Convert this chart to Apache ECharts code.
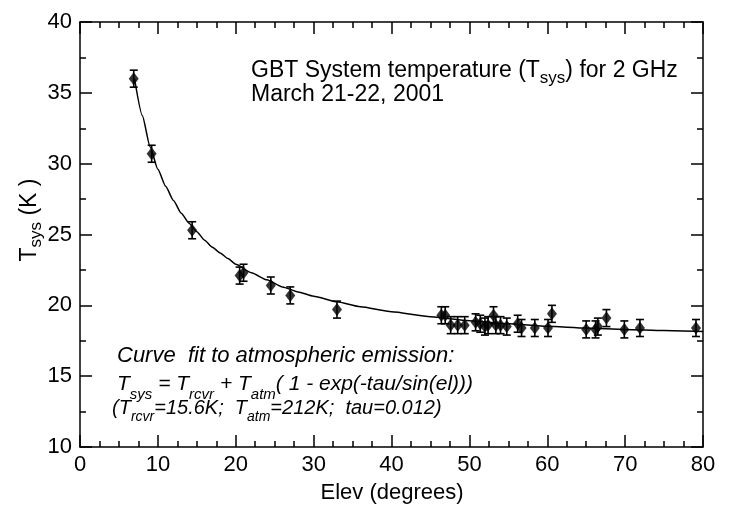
<!DOCTYPE html>
<html><head><meta charset="utf-8">
<script src="https://cdn.jsdelivr.net/npm/echarts@6/dist/echarts.min.js"></script>
<style>html,body{margin:0;padding:0;background:#fff}#c{width:730px;height:508px}</style>
</head><body><div id="c"></div>
<script>
// Measured points (elevation in degrees, Tsys in K, error half-width in K)
const elevations = [6.9, 9.2, 14.4, 20.5, 21.0, 24.5, 27.0, 33.0,
  46.4, 46.9, 47.6, 48.5, 49.4, 50.8, 51.4, 52.0, 52.4, 53.1, 53.4, 54.0, 54.8,
  56.2, 56.7, 58.4, 60.1, 60.6, 65.0, 66.2, 66.5, 67.6, 69.9, 71.9, 79.1];
const tsys = [36.0, 30.7, 25.3, 22.1, 22.3, 21.4, 20.7, 19.7,
  19.3, 19.3, 18.6, 18.6, 18.6, 18.8, 18.7, 18.5, 18.6, 19.3, 18.6, 18.6, 18.5,
  18.7, 18.4, 18.4, 18.4, 19.4, 18.3, 18.3, 18.5, 19.1, 18.3, 18.4, 18.4];
const tsysErr = [0.6, 0.6, 0.6, 0.6, 0.6, 0.6, 0.6, 0.6,
  0.6, 0.6, 0.6, 0.6, 0.6, 0.6, 0.6, 0.6, 0.6, 0.6, 0.6, 0.6, 0.6,
  0.6, 0.6, 0.6, 0.6, 0.6, 0.6, 0.6, 0.6, 0.6, 0.6, 0.6, 0.6];
// Fitted curve
const fitElev = [7, 8, 9, 10, 11, 12, 13, 14, 15, 16, 17, 18, 19, 20, 22, 24, 26, 28, 30, 33, 36, 40, 45, 50, 55, 60, 65, 70, 75, 80];
const fitTsys = [36.0, 33.4, 31.2, 29.6, 28.4, 27.4, 26.5, 25.8, 25.2, 24.6, 24.1, 23.7, 23.3, 22.9, 22.3, 21.8, 21.3, 20.95, 20.65, 20.25, 19.9, 19.55, 19.2, 18.92, 18.7, 18.52, 18.4, 18.3, 18.22, 18.15];

const FONT = '"Liberation Sans", Arial, sans-serif';
const chart = echarts.init(document.getElementById('c'), null, {renderer: 'canvas'});

const tickStyle = {color: '#000', width: 1.5};
function mkX(pos, labels) {
  return {
    type: 'value', position: pos, min: 0, max: 80, interval: 10,
    axisLine: {show: true, onZero: false, lineStyle: tickStyle},
    axisTick: {show: true, inside: true, length: 12, lineStyle: tickStyle},
    minorTick: {show: true, splitNumber: 4, length: 6, lineStyle: tickStyle},
    splitLine: {show: false}, minorSplitLine: {show: false},
    axisLabel: {show: labels, color: '#000', fontSize: 22, fontFamily: FONT, margin: 7}
  };
}
function mkY(pos, labels) {
  return {
    type: 'value', position: pos, min: 10, max: 40, interval: 5,
    axisLine: {show: true, onZero: false, lineStyle: tickStyle},
    axisTick: {show: true, inside: true, length: 12, lineStyle: tickStyle},
    minorTick: {show: true, splitNumber: 2, length: 6, lineStyle: tickStyle},
    splitLine: {show: false}, minorSplitLine: {show: false},
    axisLabel: {show: labels, color: '#000', fontSize: 22, fontFamily: FONT, margin: 8}
  };
}

const txt = {fontFamily: FONT, fill: '#000'};
const mainTok = (fs, lh) => ({fontSize: fs, lineHeight: lh, verticalAlign: 'top', fontFamily: FONT});
const subTok = (fs, pad) => ({fontSize: fs, lineHeight: fs, padding: [pad, 0, 0, 0], verticalAlign: 'top', fontFamily: FONT});
const itMain = (fs, lh) => Object.assign(mainTok(fs, lh), {fontStyle: 'italic'});
const itSub = (fs, pad) => Object.assign(subTok(fs, pad), {fontStyle: 'italic'});

chart.setOption({
  animation: false,
  backgroundColor: '#fff',
  grid: {left: 80, right: 27, top: 22, bottom: 61, containLabel: false},
  xAxis: [mkX('bottom', true), mkX('top', false)],
  yAxis: [mkY('left', true), mkY('right', false)],
  series: [
    {
      type: 'line', xAxisIndex: 0, yAxisIndex: 0,
      data: fitElev.map((e, i) => [e, fitTsys[i]]),
      showSymbol: false, smooth: 0.2, smoothMonotone: 'x',
      lineStyle: {color: '#000', width: 1.5}, z: 2
    },
    {
      type: 'custom', xAxisIndex: 0, yAxisIndex: 0,
      data: elevations.map((e, i) => [e, tsys[i] - tsysErr[i], tsys[i] + tsysErr[i]]),
      renderItem: function (params, api) {
        const x = api.value(0);
        const pLo = api.coord([x, api.value(1)]);
        const pHi = api.coord([x, api.value(2)]);
        const hw = 4;
        const st = {stroke: '#000', lineWidth: 1.6};
        return {type: 'group', children: [
          {type: 'line', shape: {x1: pLo[0], y1: pLo[1], x2: pHi[0], y2: pHi[1]}, style: st},
          {type: 'line', shape: {x1: pLo[0] - hw, y1: pLo[1], x2: pLo[0] + hw, y2: pLo[1]}, style: st},
          {type: 'line', shape: {x1: pHi[0] - hw, y1: pHi[1], x2: pHi[0] + hw, y2: pHi[1]}, style: st}
        ]};
      },
      z: 3
    },
    {
      type: 'scatter', xAxisIndex: 0, yAxisIndex: 0,
      data: elevations.map((e, i) => [e, tsys[i]]),
      symbol: 'diamond', symbolSize: [10, 13],
      itemStyle: {color: '#000'}, z: 4
    }
  ],
  graphic: [
    {type: 'text', x: 251, y: 59, style: Object.assign({}, txt, {
      verticalAlign: 'top',
      text: '{a|GBT System temperature (T}{s|sys}{a|) for 2 GHz}',
      rich: {a: mainTok(23, 26), s: subTok(17, 11)}
    })},
    {type: 'text', x: 251, y: 83, style: Object.assign({}, txt, {
      verticalAlign: 'top',
      text: '{a|March 21-22, 2001}',
      rich: {a: mainTok(23, 26)}
    })},
    {type: 'text', x: 117, y: 345, style: Object.assign({}, txt, {
      verticalAlign: 'top',
      text: '{a|Curve  fit to atmospheric emission:}',
      rich: {a: itMain(22, 26)}
    })},
    {type: 'text', x: 117, y: 374, style: Object.assign({}, txt, {
      verticalAlign: 'top',
      text: '{a|T}{s|sys}{a| = T}{s|rcvr}{a| + T}{s|atm}{a|( 1 - exp(-tau/sin(el)))}',
      rich: {a: itMain(21, 25), s: itSub(15, 13)}
    })},
    {type: 'text', x: 112, y: 398, style: Object.assign({}, txt, {
      verticalAlign: 'top',
      text: '{a|(T}{s|rcvr}{a|=15.6K;  T}{s|atm}{a|=212K;  tau=0.012)}',
      rich: {a: itMain(20, 24), s: itSub(14, 12)}
    })},
    {type: 'text', x: 392, y: 493, style: Object.assign({}, txt, {
      align: 'center', verticalAlign: 'middle',
      text: 'Elev (degrees)', fontSize: 22
    })},
    {type: 'text', x: 31, y: 220, rotation: Math.PI / 2, style: Object.assign({}, txt, {
      align: 'center', verticalAlign: 'middle',
      text: '{a|T}{s|sys}{a| (K )}',
      rich: {a: mainTok(23, 26), s: subTok(17, 10)}
    })}
  ]
});
</script>
</body></html>
